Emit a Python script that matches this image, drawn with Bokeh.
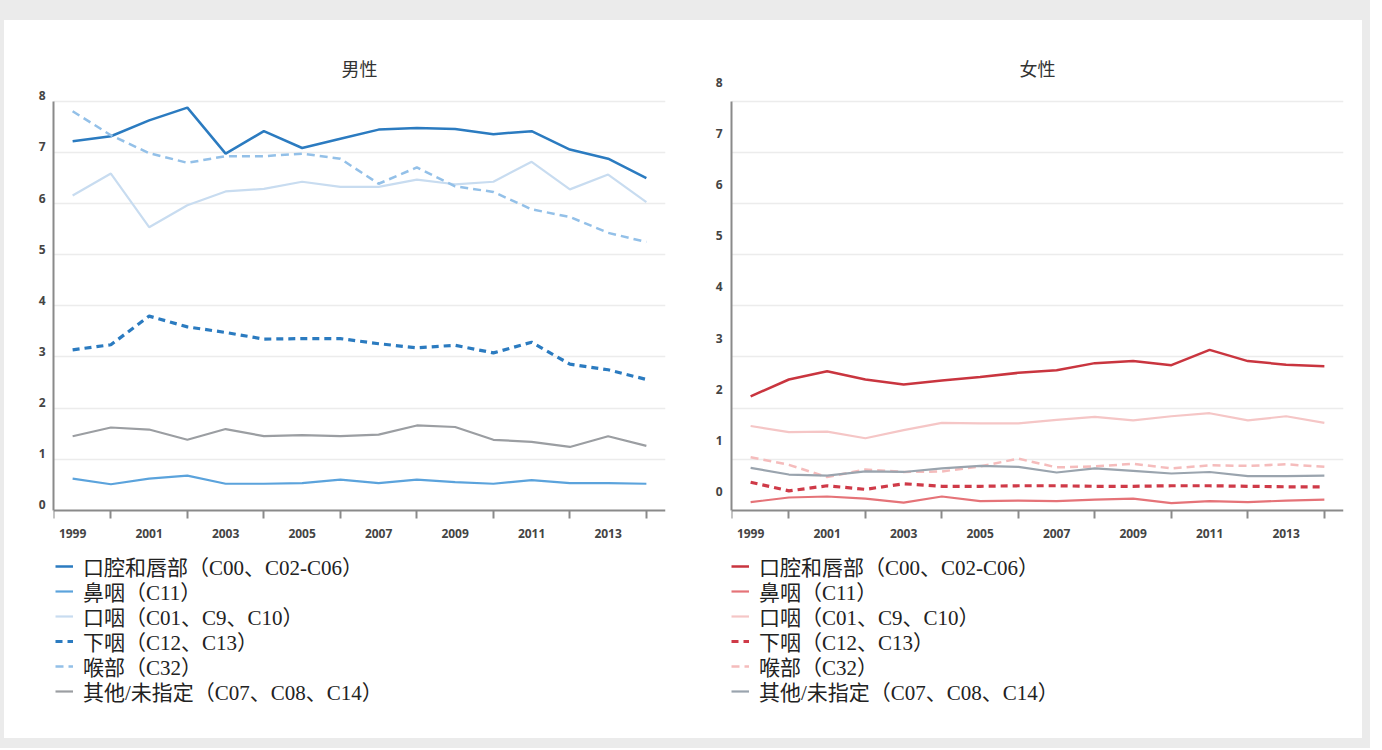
from bokeh.plotting import figure
from bokeh.models import Range1d, LinearAxis, FixedTicker, Legend, LegendItem, Spacer
from bokeh.layouts import row, column
from bokeh.embed import file_html
from bokeh.resources import INLINE

years = list(range(1999, 2015))
series_names = ["口腔和唇部（C00、C02-C06）", "鼻咽（C11）", "口咽（C01、C9、C10）",
                "下咽（C12、C13）", "喉部（C32）", "其他/未指定（C07、C08、C14）"]
year_labels = [1999, 2001, 2003, 2005, 2007, 2009, 2011, 2013]
year_ticks = [1998.5, 2000, 2002, 2004, 2006, 2008, 2010, 2012, 2014]
y_ticks = [0, 1, 2, 3, 4, 5, 6, 7, 8]

# 男性
male_oral = [7.22, 7.32, 7.63, 7.88, 6.98, 7.42, 7.09, 7.27, 7.45, 7.48, 7.46, 7.36, 7.42, 7.06, 6.88, 6.50]
male_naso = [0.62, 0.51, 0.62, 0.68, 0.52, 0.52, 0.53, 0.60, 0.53, 0.60, 0.55, 0.52, 0.59, 0.53, 0.53, 0.52]
male_oroph = [6.16, 6.59, 5.54, 5.97, 6.24, 6.29, 6.43, 6.33, 6.33, 6.47, 6.38, 6.43, 6.82, 6.28, 6.57, 6.03]
male_hypo = [3.14, 3.24, 3.80, 3.59, 3.48, 3.35, 3.36, 3.36, 3.26, 3.18, 3.23, 3.08, 3.29, 2.86, 2.75, 2.56]
male_larynx = [7.81, 7.34, 6.99, 6.80, 6.93, 6.93, 6.98, 6.88, 6.39, 6.71, 6.34, 6.23, 5.89, 5.74, 5.43, 5.25]
male_other = [1.45, 1.62, 1.58, 1.38, 1.59, 1.45, 1.47, 1.45, 1.48, 1.66, 1.63, 1.38, 1.34, 1.24, 1.45, 1.26]

# 女性
female_oral = [2.23, 2.56, 2.72, 2.56, 2.46, 2.54, 2.61, 2.69, 2.74, 2.88, 2.92, 2.84, 3.14, 2.92, 2.85, 2.82]
female_naso = [0.16, 0.25, 0.27, 0.23, 0.15, 0.27, 0.18, 0.19, 0.18, 0.21, 0.23, 0.14, 0.18, 0.16, 0.19, 0.21]
female_oroph = [1.65, 1.53, 1.54, 1.41, 1.57, 1.71, 1.70, 1.70, 1.77, 1.83, 1.76, 1.84, 1.90, 1.76, 1.84, 1.71]
female_hypo = [0.55, 0.38, 0.48, 0.41, 0.52, 0.47, 0.47, 0.48, 0.48, 0.47, 0.47, 0.48, 0.48, 0.47, 0.46, 0.46]
female_larynx = [1.04, 0.89, 0.65, 0.80, 0.75, 0.76, 0.86, 1.01, 0.84, 0.86, 0.91, 0.82, 0.88, 0.87, 0.90, 0.85]
female_other = [0.83, 0.70, 0.68, 0.76, 0.75, 0.82, 0.87, 0.85, 0.74, 0.82, 0.77, 0.72, 0.75, 0.67, 0.67, 0.68]

male_colors = ["#2b7bc0", "#5ba3dc", "#c8dcf0", "#2b7bc0", "#93c0e8", "#9b9ea2"]
female_colors = ["#c9353f", "#e57378", "#f5c6c6", "#cf3a48", "#f5bcbc", "#9aa4ae"]
widths = [2.5, 2.2, 2.2, 3.2, 2.5, 2.2]
dashes = ["solid", "solid", "solid", "7 5", "8 5", "solid"]

AXIS_COLOR = "#8a8a8a"
TICK_FONT = "Open Sans"
LEG_FONT = "Liberation Serif, Noto Sans CJK SC"
FRAME_GRAY = "#ebebeb"
Y_TOP = 8.45
Y_BOTTOM = -4.27   # room under the x axis for the legend
LEG_ROW = 25       # legend row pitch in px
LEG_FIRST = 147    # px from frame bottom to bottom of first legend row


def make_panel(title, data, colors, label_shift, border_left, border_right, label_standoff, leg_x):
    p = figure(width=679, height=718, x_range=Range1d(1998.5, 2014.5), y_range=Range1d(Y_BOTTOM, Y_TOP),
               output_backend="svg", toolbar_location=None,
               min_border_left=border_left, min_border_right=border_right,
               min_border_top=58, min_border_bottom=10)
    p.background_fill_color = None
    p.border_fill_color = "white"
    p.outline_line_color = None

    p.title.text = title
    p.title.align = "center"
    p.title.text_font = "Noto Sans CJK SC"
    p.title.text_font_size = "18px"
    p.title.text_font_style = "normal"
    p.title.text_color = "#333333"
    p.title.standoff = -5

    p.xgrid.visible = False
    p.ygrid.ticker = FixedTicker(ticks=y_ticks[1:])
    p.ygrid.grid_line_color = "#ececec"
    p.ygrid.grid_line_width = 1.5

    ya = p.yaxis[0]
    ya.bounds = (0, 8)
    ya.ticker = FixedTicker(ticks=[])
    ya.axis_line_color = AXIS_COLOR
    ya.axis_line_width = 2
    ya.major_tick_line_color = None
    ya.minor_tick_line_color = None
    ya.major_tick_in = 0
    ya.major_tick_out = 0
    ya.major_label_standoff = 0

    p.extra_y_ranges = {"lab": Range1d(Y_BOTTOM - label_shift, Y_TOP - label_shift)}
    la = LinearAxis(y_range_name="lab", ticker=FixedTicker(ticks=y_ticks))
    la.axis_line_color = None
    la.major_tick_line_color = None
    la.minor_tick_line_color = None
    la.major_tick_in = 0
    la.major_tick_out = 0
    la.major_label_standoff = label_standoff
    la.major_label_text_font = TICK_FONT
    la.major_label_text_font_style = "bold"
    la.major_label_text_font_size = "12px"
    la.major_label_text_color = "#444444"
    p.add_layout(la, "left")

    xa = p.xaxis[0]
    xa.fixed_location = 0
    xa.ticker = FixedTicker(ticks=year_labels, minor_ticks=year_ticks)
    xa.axis_line_color = AXIS_COLOR
    xa.axis_line_width = 2
    xa.major_tick_line_color = None
    xa.major_tick_in = 0
    xa.major_tick_out = 0
    xa.minor_tick_line_color = AXIS_COLOR
    xa.minor_tick_line_width = 2
    xa.minor_tick_in = 0
    xa.minor_tick_out = 8
    xa.major_label_standoff = 11
    xa.major_label_text_font = TICK_FONT
    xa.major_label_text_font_style = "bold"
    xa.major_label_text_font_size = "12px"
    xa.major_label_text_color = "#444444"

    for i, (name, vals, c, w, d) in enumerate(zip(series_names, data, colors, widths, dashes)):
        r = p.line(years, vals, line_color=c, line_width=w, line_dash=d)
        leg = Legend(items=[LegendItem(label=name, renderers=[r])],
                     location=(leg_x, LEG_FIRST - LEG_ROW * i), orientation="vertical",
                     glyph_width=18, glyph_height=20, label_height=20, spacing=0,
                     label_standoff=10, padding=0, margin=0,
                     border_line_color=None, background_fill_alpha=0,
                     label_text_font=LEG_FONT, label_text_font_size="21px",
                     label_text_color="#222222")
        p.add_layout(leg, "center")
    return p


p1 = make_panel("男性", [male_oral, male_naso, male_oroph, male_hypo, male_larynx, male_other],
                male_colors, 0.11, 49, 18, 8, 2)
p2 = make_panel("女性", [female_oral, female_naso, female_oroph, female_hypo, female_larynx, female_other],
                female_colors, 0.37, 48, 19, 9, 0)

gray = {"background-color": FRAME_GRAY}
layout = column(
    Spacer(width=1370, height=20, styles=gray),
    row(Spacer(width=4, height=718, styles=gray), p1, p2, Spacer(width=8, height=718, styles=gray)),
    Spacer(width=1370, height=10, styles=gray),
    styles={"background-color": "white"},
)

open("out.html", "w").write(file_html(layout, INLINE))
